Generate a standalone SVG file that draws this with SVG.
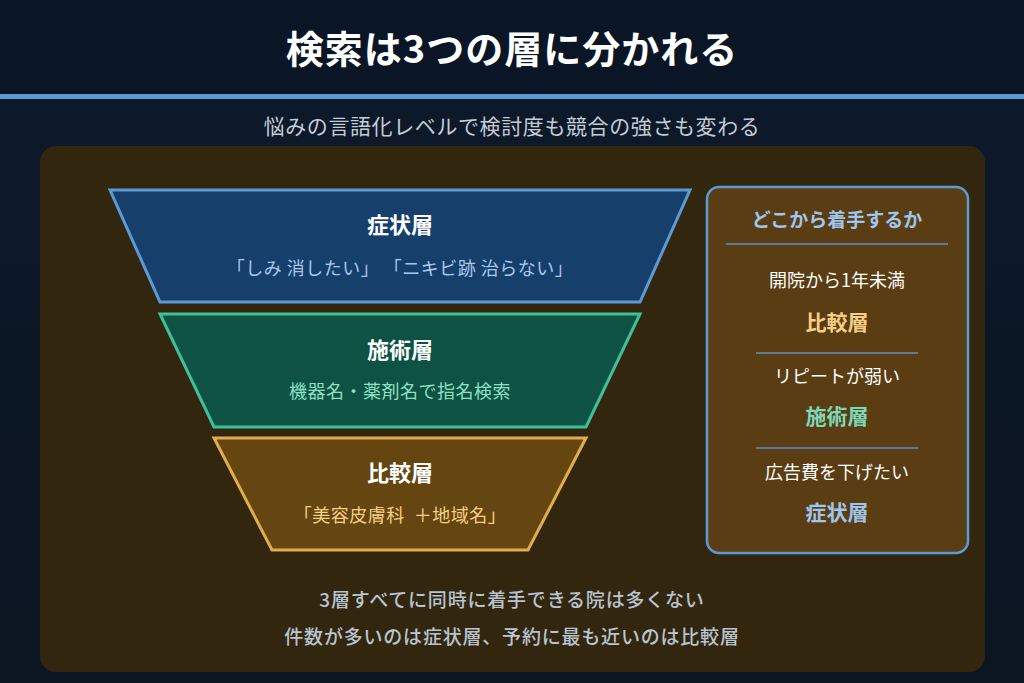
<svg xmlns="http://www.w3.org/2000/svg" width="1024" height="683" viewBox="0 0 1024 683">
<defs>
<linearGradient id="bg" x1="0" y1="0" x2="0" y2="1"><stop offset="0" stop-color="#0d1a2b"/><stop offset="1" stop-color="#0c1522"/></linearGradient>
</defs>
<style>
text{font-family:"Noto Sans CJK JP","Noto Sans",sans-serif;text-anchor:middle}
.h{font-weight:700;font-size:22px;fill:#ffffff}
.s{font-size:18px;letter-spacing:0.5px}
.r{font-size:18px;fill:#ffffff}
.rb{font-weight:700;font-size:21px}
.f{font-size:19px;font-weight:500;fill:#b8c4d0;letter-spacing:0.8px}
</style>
<rect width="1024" height="683" fill="url(#bg)"/>
<rect width="1024" height="96" fill="#0a1626"/>
<rect y="94" width="1024" height="5" fill="#5b9bd5"/>
<text x="512" y="63" style="font-weight:700;font-size:38px;fill:#fff;letter-spacing:1px">検索は3つの層に分かれる</text>
<text x="512" y="134" style="font-size:21px;fill:#c4ccd6;letter-spacing:0.6px">悩みの言語化レベルで検討度も競合の強さも変わる</text>
<rect x="40" y="146" width="945" height="526" rx="16" fill="#33260f"/>
<g id="layer1"><polygon points="110,190 690,190 640,302 160,302" fill="#163f6c" stroke="#5b9bd5" stroke-width="3"/>
<text class="h" x="400" y="233">症状層</text><text class="s" x="400" y="275" fill="#a9c8ec" xml:space="preserve">「しみ 消したい」 「ニキビ跡 治らない」</text></g>
<g id="layer2"><polygon points="160,314 640,314 586,427 214,427" fill="#0e5244" stroke="#3ec09a" stroke-width="3"/>
<text class="h" x="400" y="358">施術層</text><text class="s" x="400" y="398" fill="#8fe0c2">機器名・薬剤名で指名検索</text></g>
<g id="layer3"><polygon points="214,438 586,438 528,550 272,550" fill="#654611" stroke="#e0ad4e" stroke-width="3"/>
<text class="h" x="400" y="481">比較層</text><text class="s" x="400" y="522" fill="#f4cf85" xml:space="preserve">「美容皮膚科  ＋地域名」</text></g>
<g id="panel"><rect x="707" y="187" width="261" height="366" rx="12" fill="#5a3d12" stroke="#5b9bd5" stroke-width="2.5"/>
<text x="837" y="227" style="font-weight:700;font-size:19px;fill:#9fc6ec">どこから着手するか</text>
<line x1="726" y1="244" x2="948" y2="244" stroke="#5d7a99" stroke-width="2"/>
<text class="r" x="837" y="287">開院から1年未満</text><text class="rb" x="837" y="330" fill="#f4cf85">比較層</text>
<line x1="756" y1="353" x2="918" y2="353" stroke="#5d7a99" stroke-width="2"/>
<text class="r" x="837" y="383">リピートが弱い</text><text class="rb" x="837" y="424" fill="#7ed9b8">施術層</text>
<line x1="756" y1="448" x2="918" y2="448" stroke="#5d7a99" stroke-width="2"/>
<text class="r" x="837" y="479">広告費を下げたい</text><text class="rb" x="837" y="520" fill="#9fc6ec">症状層</text></g>
<g id="connectors"/>
<text class="f" x="512" y="607">3層すべてに同時に着手できる院は多くない</text>
<text class="f" x="512" y="644">件数が多いのは症状層、予約に最も近いのは比較層</text>
</svg>
